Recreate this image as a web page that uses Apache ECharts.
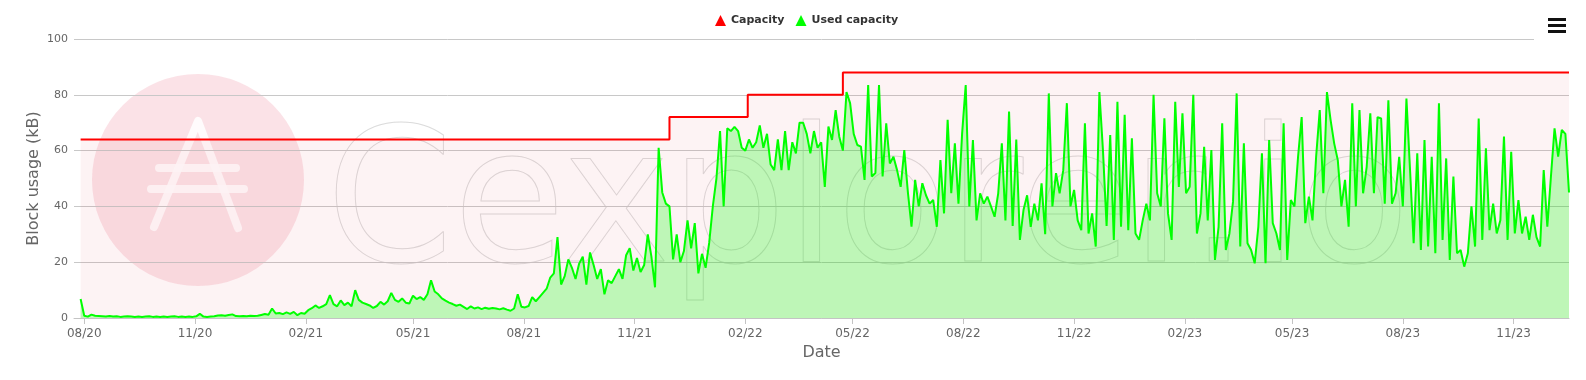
<!DOCTYPE html>
<html>
<head>
<meta charset="utf-8">
<script src="https://cdn.jsdelivr.net/npm/echarts@6/dist/echarts.min.js"></script>
<style>html,body{margin:0;padding:0;background:#fff}#c{width:1586px;height:380px}</style>
</head>
<body>
<div id="c"></div>
<script>
// ---- data ----
const usedStartDate = '2020-07-29';
const usedStepDays = 3;
const usedCapacity = [
  6.8, 0.8, 0.5, 1.2, 0.8, 0.7, 0.6, 0.5, 0.7, 0.5,
  0.6, 0.4, 0.5, 0.6, 0.5, 0.4, 0.5, 0.4, 0.5, 0.6,
  0.4, 0.5, 0.4, 0.5, 0.4, 0.5, 0.6, 0.4, 0.5, 0.4,
  0.5, 0.4, 0.6, 1.5, 0.5, 0.4, 0.5, 0.6, 0.9, 1.0,
  0.8, 1.1, 1.3, 0.7, 0.6, 0.7, 0.6, 0.8, 0.7, 0.8,
  1.1, 1.4, 1.2, 3.4, 1.6, 1.8, 1.4, 2.0, 1.5, 2.2,
  1.0, 1.8, 1.5, 2.8, 3.5, 4.5, 3.6, 4.2, 5.0, 8.2,
  5.0, 4.2, 6.3, 4.6, 5.5, 4.2, 10.0, 6.5, 5.5, 5.0,
  4.5, 3.6, 4.3, 5.8, 4.8, 6.0, 9.0, 6.5, 5.8, 7.0,
  5.5, 5.2, 8.0, 6.8, 7.5, 6.5, 8.5, 13.5, 9.5, 8.5,
  7.0, 6.2, 5.5, 5.0, 4.4, 4.8, 4.0, 3.2, 4.2, 3.4,
  3.8, 3.2, 3.7, 3.3, 3.6, 3.4, 3.1, 3.5, 3.0, 2.6,
  3.4, 8.5, 4.0, 3.8, 4.3, 7.5, 6.0, 7.5, 9.0, 10.5,
  14.5, 16.0, 29.0, 12.0, 15.0, 21.0, 18.0, 14.0, 19.5, 22.0,
  12.0, 23.5, 19.0, 14.0, 17.5, 8.5, 13.5, 12.5, 15.0, 17.5,
  14.0, 22.5, 25.0, 17.0, 21.5, 16.5, 19.0, 30.0, 22.0, 11.0,
  61.0, 45.0, 41.0, 40.0, 21.0, 30.0, 20.0, 24.0, 35.0, 25.0,
  34.0, 16.0, 23.0, 18.0, 27.0, 40.0, 50.0, 67.0, 40.0, 68.0,
  67.0, 68.5, 67.0, 61.0, 60.0, 64.0, 61.0, 63.0, 69.0, 61.0,
  66.0, 55.0, 53.0, 64.0, 53.0, 67.0, 53.0, 63.0, 59.0, 70.0,
  70, 66, 59, 67, 61, 63, 47, 68.6, 63.8, 74.5,
  65, 60, 81, 77, 66, 62, 61.4, 49.5, 83.5, 50.7,
  52, 83.5, 50.7, 69.8, 55.4, 57.8, 53, 47, 60.2, 45,
  32.7, 49.5, 40, 48.3, 44, 41, 42.3, 32.7, 56.6, 37.5,
  71, 44.7, 62.6, 41, 66, 83.5, 40, 63.8, 35, 44.7,
  41, 43.5, 40, 36.3, 44.7, 62.6, 35, 74, 33, 64,
  28, 38.7, 44, 32.7, 41, 35, 48.3, 30, 80.5, 40,
  51.9, 44.7, 53, 77, 40, 45.9, 35, 31.5, 69.8, 30.3,
  37.5, 25.6, 81, 60, 33, 65.6, 28, 77.5, 32.7, 72.8,
  31.5, 64.4, 30.3, 28, 35, 41, 35, 80, 44.7, 40,
  71.6, 37.5, 28, 77.5, 47, 73.4, 44.7, 47, 80, 30.3,
  37.5, 61.4, 35, 60.2, 20.8, 32.7, 69.8, 24.4, 30.3, 41.7,
  80.5, 25.6, 62.6, 26.8, 24.4, 19.6, 32.7, 59, 19.6, 63.8,
  34, 30.3, 24.4, 69.8, 20.8, 42.3, 40, 57.8, 72, 34,
  43.5, 35, 57.8, 74.5, 44.7, 81, 71, 62.6, 56.6, 40,
  49.5, 32.7, 77, 40, 74.5, 44.7, 54.2, 73.4, 44.7, 72,
  71.5, 41, 78, 41, 44.7, 57.8, 40, 78.7, 53, 26.8,
  59, 24.4, 63.8, 25.6, 57.8, 23.2, 77, 28, 57.2, 20.8,
  50.7, 23.2, 24.4, 18.4, 23.2, 40, 25.6, 71.5, 28, 60.8,
  31.5, 41, 30.3, 35, 65, 28, 59.6, 30.3, 42.3, 30.3,
  36.3, 28, 37, 29, 25.6, 53, 32.7, 50.7, 68, 57.8,
  67.4, 66, 45
];
const capacityDates = ['2020-07-29', '2021-11-30', '2022-02-03', '2022-04-23', '2023-12-17'];
const capacityValues = [64, 72, 80, 88, 88];
const tickLabels = ['08/20','11/20','02/21','05/21','08/21','11/21','02/22','05/22','08/22','11/22','02/23','05/23','08/23','11/23'];
const xMinDate = '2020-07-23T12:00:00Z';
const xMaxDate = '2023-12-17T00:00:00Z';

// ---- build ----
const DAY = 86400000;
const t0 = Date.parse(usedStartDate + 'T00:00:00Z');
const usedData = usedCapacity.map((v, i) => [t0 + i * usedStepDays * DAY, v]);
const capData = capacityDates.map((d, i) => [Date.parse(d + 'T00:00:00Z'), capacityValues[i]]);
const tickValues = tickLabels.map(s => {
  const m = parseInt(s.slice(0, 2), 10) - 1;
  const y = 2000 + parseInt(s.slice(3), 10);
  return Date.UTC(y, m, 1);
});
function fmt(v) {
  const d = new Date(v);
  const m = d.getUTCMonth() + 1;
  return (m < 10 ? '0' : '') + m + '/' + String(d.getUTCFullYear()).slice(2);
}

const FONT = 'DejaVu Sans';
const chart = echarts.init(document.getElementById('c'), null, {renderer: 'canvas'});
chart.setOption({
  animation: false,
  textStyle: {fontFamily: FONT},
  grid: {left: 74, right: 17, top: 39, bottom: 62, containLabel: false, outerBoundsMode: 'none'},
  legend: {
    left: 710, top: 10,
    icon: 'triangle', itemWidth: 11, itemHeight: 11, itemGap: 11,
    data: ['Capacity', 'Used capacity'],
    textStyle: {fontFamily: FONT, fontSize: 11, fontWeight: 'bold', color: '#333'}
  },
  xAxis: {
    type: 'value',
    min: Date.parse(xMinDate),
    max: Date.parse(xMaxDate),
    name: 'Date', nameLocation: 'middle', nameGap: 26,
    nameTextStyle: {fontFamily: FONT, fontSize: 16, color: '#666'},
    axisLine: {show: true, lineStyle: {color: '#c4c4c4', width: 1}},
    axisTick: {show: true, length: 6, customValues: tickValues, lineStyle: {color: '#c4c4c4'}},
    axisLabel: {customValues: tickValues, formatter: fmt, color: '#666', fontSize: 12, margin: 10, fontFamily: FONT},
    splitLine: {show: false}
  },
  yAxis: {
    type: 'value', min: 0, max: 100, interval: 20,
    name: 'Block usage (kB)', nameLocation: 'middle', nameGap: 32, nameMoveOverlap: false,
    nameTextStyle: {fontFamily: FONT, fontSize: 16, color: '#666'},
    axisLine: {show: false}, axisTick: {show: false},
    axisLabel: {color: '#666', fontSize: 11, margin: 6, fontFamily: FONT},
    splitLine: {show: true, lineStyle: {color: '#c8c8c8', width: 1}}
  },
  series: [
    {
      name: 'Capacity', type: 'line', step: 'end', data: capData, showSymbol: false, silent: true,
      itemStyle: {color: '#ff0000'}, lineStyle: {width: 0},
      areaStyle: {color: 'rgba(230,90,100,0.07)', opacity: 1, origin: 'start'}, z: 1
    },
    {
      name: 'Used capacity', type: 'line', data: usedData, showSymbol: false,
      itemStyle: {color: '#00ff00'}, lineStyle: {color: '#00ff00', width: 2},
      areaStyle: {color: 'rgba(0,255,0,0.25)', opacity: 1, origin: 'start'}, z: 2
    },
    {
      name: 'Capacity', type: 'line', step: 'end', data: capData, showSymbol: false,
      itemStyle: {color: '#ff0000'}, lineStyle: {color: '#ff0000', width: 2}, z: 3
    }
  ],
  graphic: [
    {type: 'circle', shape: {cx: 198, cy: 180, r: 106}, style: {fill: 'rgba(240,150,170,0.28)'}, z: 0, silent: true},
    {type: 'polyline', shape: {points: [[154, 227], [198, 121], [238, 228]]},
      style: {stroke: 'rgba(255,255,255,0.85)', lineWidth: 8, lineCap: 'round', lineJoin: 'round', fill: null}, z: 0, silent: true},
    {type: 'line', shape: {x1: 159, y1: 168, x2: 236, y2: 168},
      style: {stroke: 'rgba(255,255,255,0.85)', lineWidth: 8, lineCap: 'round'}, z: 0, silent: true},
    {type: 'line', shape: {x1: 151, y1: 189, x2: 244, y2: 189},
      style: {stroke: 'rgba(255,255,255,0.85)', lineWidth: 8, lineCap: 'round'}, z: 0, silent: true},
    {type: 'text', x: 326, y: 212, scaleX: 0.97, z: 0, silent: true,
      style: {text: 'Cexplorer.io', font: '188px "DejaVu Sans"', fill: 'rgba(0,0,0,0)', stroke: 'rgba(170,170,170,0.42)', lineWidth: 1, verticalAlign: 'middle'}},
    {type: 'rect', shape: {x: 1534, y: 36, width: 40, height: 6}, style: {fill: '#fff'}, z: 100, silent: true},
    {type: 'rect', shape: {x: 1548, y: 18, width: 18, height: 3}, style: {fill: '#111'}, z: 100},
    {type: 'rect', shape: {x: 1548, y: 24, width: 18, height: 3}, style: {fill: '#111'}, z: 100},
    {type: 'rect', shape: {x: 1548, y: 30, width: 18, height: 3}, style: {fill: '#111'}, z: 100}
  ]
});
</script>
</body>
</html>
